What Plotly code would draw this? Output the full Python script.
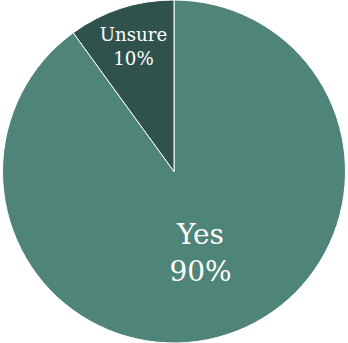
import plotly.graph_objects as go

labels = ["Yes", "Unsure"]
values = [90, 10]
colors = ["#4f8478", "#2f524d"]

fig = go.Figure(go.Pie(
    labels=labels, values=values, sort=False, direction="clockwise", rotation=0,
    marker=dict(colors=colors, line=dict(color="white", width=1)),
    texttemplate="%{label}<br>%{percent:.0%}",
    textposition="inside", insidetextorientation="horizontal",
    textfont=dict(family="DejaVu Serif", color="white", size=[28, 26]),
    hole=0, showlegend=False,
))
fig.update_layout(width=348, height=343, margin=dict(l=0, r=0, t=0, b=0),
                  paper_bgcolor="white", showlegend=False)
fig.write_html("out.html", config={"displayModeBar": False},
               post_script="document.body.style.margin='0';")
